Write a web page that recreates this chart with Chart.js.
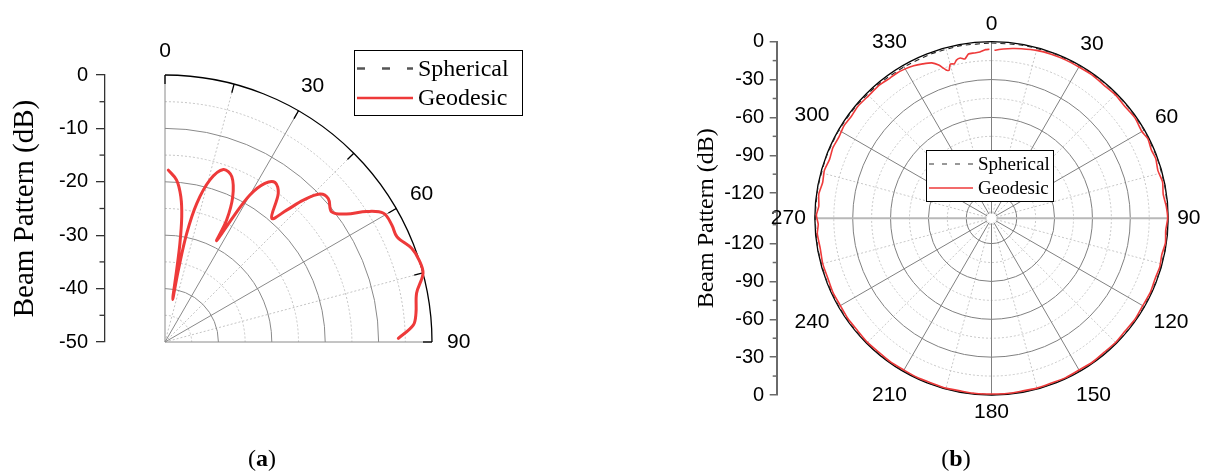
<!DOCTYPE html>
<html>
<head>
<meta charset="utf-8">
<script src="https://cdn.jsdelivr.net/npm/chart.js@4.4.1/dist/chart.umd.min.js"></script>
<style>
  body { margin: 0; background: #fff; width: 1207px; height: 473px; overflow: hidden; position: relative; }
  canvas { position: absolute; top: 0; }
  #chartA { left: 0; }
  #chartB { left: 600px; }
  .cap { position: absolute; top: 445px; width: 60px; text-align: center; font: 24px "Liberation Serif", serif; color: #000; }
</style>
</head>
<body>
<canvas id="chartA" width="600" height="473"></canvas>
<canvas id="chartB" width="607" height="473"></canvas>
<div class="cap" style="left:232px">(<b>a</b>)</div>
<div class="cap" style="left:926px">(<b>b</b>)</div>
<script>
// ---- (a) one quadrant, angle in degrees, beam pattern in dB ----
const anglesA = [1.1, 4.1, 6.2, 7.6, 8.6, 9.2, 10.2, 10.5, 11.3, 12.9, 15.5, 18.7, 22.0, 25.0, 26.8, 27.0,
  28.6, 30.0, 32.2, 34.6, 37.3, 40.8, 42.7, 44.3, 46.3, 48.7, 52.0, 54.8, 57.1, 59.5, 62.7, 65.6,
  69.2, 72.2, 75.1, 79.0, 83.5, 86.1, 89.1];
const geodesicA = [-17.8, -19.6, -22.6, -26.3, -31.3, -36.3, -41.9, -36.3, -29.3, -23.4, -18.5, -15.9, -16.6, -20.0, -24.4, -28.7,
  -23.3, -18.2, -14.9, -13.7, -15.0, -19.4, -16.4, -12.9, -9.9, -9.3, -10.4, -8.4, -5.0, -2.5, -2.2, -2.3,
  -0.6, 0.0, 0.0, -2.0, -2.7, -3.4, -6.3];
const sphericalA = geodesicA; // dashed curve lies right under the red one
const radialTicksA = [0, -10, -20, -30, -40, -50];
const angleTicksA = [0, 30, 60, 90];

// ---- (b) full circle ----
const anglesGeoB = [1, 4, 7, 10, 15, 20, 25, 30, 35, 40, 45, 50, 55, 60, 63, 67, 70, 74, 78, 82, 86, 90,
  94, 98, 102, 106, 110, 115, 120, 125, 130, 135, 140, 145, 150, 155, 160, 165, 170, 175, 180,
  185, 190, 195, 200, 205, 210, 215, 220, 225, 230, 235, 240, 245, 250, 255, 260, 265, 268, 271,
  274, 278, 282, 286, 290, 294, 298, 302, 306, 310, 315, 320, 324, 327, 330, 333, 336, 339, 341,
  343, 344, 345, 346.5, 347.5, 349, 350.5, 352, 354, 356, 358, 359.3];
const geodesicB = [-6.8, -5.5, -4.4, -3.5, -2.2, -1.6, -1.4, -1.5, -1.2, -1.8, -1.3, -2.0, -1.2, -2.4, -1.0, -2.2, -1.5, -2.8, -1.4, -2.6, -1.2, -0.4,
  -1.6, -0.8, -2.0, -1.2, -1.8, -1.1, -1.6, -1.0, -1.5, -0.9, -1.3, -0.8, -1.2, -0.7, -1.1, -0.7, -1.0, -0.6, -0.8,
  -0.6, -1.0, -0.7, -1.1, -0.8, -1.2, -0.9, -1.3, -1.0, -1.5, -1.2, -1.7, -1.3, -1.9, -1.5, -2.2, -1.4, -2.6, -1.2,
  -2.8, -1.8, -3.2, -2.2, -3.4, -2.4, -3.0, -2.0, -2.6, -1.8, -2.4, -2.0, -2.8, -2.6, -3.2, -4.2, -6.0, -8.0, -11.5,
  -17.0, -18.0, -13.5, -14.0, -11.5, -10.5, -12.0, -8.5, -8.2, -7.9, -6.2, -6.0];
const anglesSphB = [0, 10, 20, 30, 40, 50, 60, 70, 80, 90, 100, 110, 120, 130, 140, 150, 160, 170, 180,
  190, 200, 210, 220, 230, 240, 250, 260, 270, 280, 290, 300, 310, 320, 330, 340, 350, 360];
const sphericalB = [-1.0, -0.6, -0.4, -0.3, -0.3, -0.3, -0.3, -0.3, -0.3, -0.3, -0.3, -0.3, -0.3, -0.3, -0.3, -0.3, -0.3, -0.3, -0.3,
  -0.3, -0.3, -0.3, -0.3, -0.3, -0.3, -0.3, -0.3, -0.3, -0.3, -0.3, -0.3, -0.6, -1.0, -1.4, -1.2, -1.0, -1.0];
const radialTicksB = [0, -30, -60, -90, -120];
const angleTicksB = [0, 30, 60, 90, 120, 150, 180, 210, 240, 270, 300, 330];

const DEG = Math.PI / 180;
const RED = '#ee3a3a';

function toPoints(angles, values, floor) {
  return angles.map((a, i) => {
    const r = Math.max(values[i] - floor, 0);
    return { x: r * Math.sin(a * DEG), y: r * Math.cos(a * DEG) };
  });
}

// polar grid, angle labels, minor axis ticks and legend, drawn through the chart scales
function polarGrid(o) {
  return {
    id: 'polarGrid',
    beforeDatasetsDraw(chart) {
      const { ctx, scales: { x, y } } = chart;
      const cx = x.getPixelForValue(0), cy = y.getPixelForValue(0);
      const k = cy - y.getPixelForValue(1);
      const R = -o.floor * k;
      const pt = (a, r) => [cx + r * Math.sin(a * DEG), cy - r * Math.cos(a * DEG)];
      const arc = r => { ctx.beginPath(); ctx.arc(cx, cy, r, (o.from - 90) * DEG, (o.to - 90) * DEG); ctx.stroke(); };
      const spoke = (a, r0, r1) => { ctx.beginPath(); ctx.moveTo(...pt(a, r0)); ctx.lineTo(...pt(a, r1)); ctx.stroke(); };
      const step = o.ticks[0] - o.ticks[1];
      const major = o.ticks.filter(d => d < 0 && d > o.floor);
      const minor = o.ticks.filter(d => d - step / 2 > o.floor).map(d => d - step / 2);

      ctx.save();
      ctx.lineWidth = 1;
      ctx.strokeStyle = o.minorColor;
      ctx.setLineDash([2, 2]);
      minor.forEach(d => arc((d - o.floor) * k));
      for (let a = o.from + 15; a < o.to; a += 30) spoke(a, o.hole, R);
      ctx.setLineDash([]);
      ctx.strokeStyle = o.majorColor;
      major.forEach(d => arc((d - o.floor) * k));
      for (let a = o.from; a <= o.to; a += 30) {
        if (o.full && a % 90 === 0 && a % 180 !== 0) continue;
        spoke(a, o.hole, R);
      }
      if (o.full) {
        ctx.strokeStyle = '#b8b8b8';
        ctx.lineWidth = 2;
        spoke(90, o.hole, R);
        spoke(270, o.hole, R);
      }
      // outer rim
      ctx.strokeStyle = '#000';
      ctx.lineWidth = 1.3;
      arc(R);
      if (o.rimTicks) for (let a = o.from; a <= o.to; a += 15) spoke(a, R - 9, R);

      // angle labels
      ctx.fillStyle = '#000';
      ctx.font = o.angleFont + 'px "Liberation Sans", Arial, sans-serif';
      ctx.textAlign = 'center';
      ctx.textBaseline = 'middle';
      o.angles.forEach(a => {
        const t = String(a);
        const w = ctx.measureText(t).width;
        const s = Math.abs(Math.sin(a * DEG)), c = Math.abs(Math.cos(a * DEG));
        const off = o.labelGap + s * w / 2 + c * o.angleFont * 0.4 + o.diag * Math.abs(Math.sin(2 * a * DEG));
        ctx.fillText(t, ...pt(a, R + off));
      });

      // minor ticks on the left axis
      const left = chart.chartArea.left;
      ctx.strokeStyle = o.axisColor;
      ctx.lineWidth = o.axisWidth;
      const vals = o.full ? minor.flatMap(d => [d - o.floor, -(d - o.floor)]) : minor.map(d => d - o.floor);
      vals.forEach(v => {
        const py = y.getPixelForValue(v);
        ctx.beginPath(); ctx.moveTo(left - o.minorTick, py); ctx.lineTo(left, py); ctx.stroke();
      });
      ctx.restore();
    },
    afterDatasetsDraw(chart) {
      const { ctx } = chart;
      const L = o.legend;
      ctx.save();
      ctx.fillStyle = '#fff';
      ctx.fillRect(L.x, L.y, L.w, L.h);
      ctx.strokeStyle = '#000';
      ctx.lineWidth = 1;
      ctx.strokeRect(L.x + 0.5, L.y + 0.5, L.w, L.h);
      const rows = [
        { text: 'Spherical', color: L.dashColor, width: L.dashWidth, dash: L.dash },
        { text: 'Geodesic', color: RED, width: L.lineWidth, dash: [] }
      ];
      ctx.font = L.font + 'px "Liberation Serif", "Times New Roman", serif';
      ctx.textBaseline = 'middle';
      ctx.textAlign = 'left';
      rows.forEach((r, i) => {
        const yy = L.y + L.rowTop + i * L.rowGap;
        ctx.strokeStyle = r.color;
        ctx.lineWidth = r.width;
        ctx.setLineDash(r.dash);
        ctx.beginPath(); ctx.moveTo(L.x + 3, yy); ctx.lineTo(L.x + 3 + L.sample, yy); ctx.stroke();
        ctx.setLineDash([]);
        ctx.fillStyle = '#000';
        ctx.fillText(r.text, L.x + L.sample + 8, yy + 1);
      });
      ctx.restore();
    }
  };
}

// pixel frame of each plot inside its canvas
const geoA = { w: 600, h: 473, left: 105, top: 75, bottom: 342, right: 580, cx: 165 };
const geoB = { w: 607, h: 473, left: 176.7, top: 41.7, bottom: 395, right: 597, cx: 391.5 };
const floorA = -50, floorB = -140;
const kA = (geoA.bottom - geoA.top) / -floorA;
const kB = (geoB.bottom - geoB.top) / (-2 * floorB);

new Chart(document.getElementById('chartA'), {
  type: 'scatter',
  data: {
    datasets: [
      { label: 'Geodesic', data: toPoints(anglesA, geodesicA, floorA), showLine: true, borderColor: RED,
        borderWidth: 3, tension: 0.35, pointRadius: 0, clip: false, borderCapStyle: 'round' },
      { label: 'Spherical', data: toPoints(anglesA, sphericalA, floorA), showLine: true, borderColor: '#555',
        borderWidth: 1.5, borderDash: [8, 6], tension: 0.35, pointRadius: 0, clip: false }
    ]
  },
  options: {
    responsive: false,
    animation: false,
    layout: { padding: { left: 0, top: geoA.top, right: geoA.w - geoA.right, bottom: geoA.h - geoA.bottom } },
    plugins: { legend: { display: false }, tooltip: { enabled: false } },
    scales: {
      x: { type: 'linear', display: false, min: -(geoA.cx - geoA.left) / kA, max: (geoA.right - geoA.cx) / kA },
      y: {
        type: 'linear', min: 0, max: -floorA,
        afterFit: s => { s.width = geoA.left; },
        afterBuildTicks: s => { s.ticks = radialTicksA.map(d => ({ value: d - floorA })); },
        border: { color: '#333', width: 1.3 },
        grid: { drawOnChartArea: false, tickLength: 9, color: '#333', lineWidth: 1.3 },
        ticks: { padding: 8, color: '#000', font: { family: 'Liberation Sans', size: 20 }, callback: v => String(v + floorA) },
        title: { display: true, text: 'Beam Pattern (dB)', color: '#000', padding: { top: 8, bottom: 0 },
          font: { family: 'Liberation Serif', size: 29 } }
      }
    }
  },
  plugins: [polarGrid({
    floor: floorA, from: 0, to: 90, hole: 0, full: false, rimTicks: true, ticks: radialTicksA,
    majorColor: '#8a8a8a', minorColor: '#c4c4c4', angles: angleTicksA, angleFont: 21, labelGap: 15, diag: 0,
    axisColor: '#333', axisWidth: 1.3, minorTick: 5.5,
    legend: { x: 354, y: 50, w: 168, h: 65, rowTop: 18.5, rowGap: 29.5, sample: 56, font: 24,
      dashColor: '#555', dashWidth: 2.5, dash: [8, 17], lineWidth: 2.5 }
  })]
});

new Chart(document.getElementById('chartB'), {
  type: 'scatter',
  data: {
    datasets: [
      { label: 'Geodesic', data: toPoints(anglesGeoB, geodesicB, floorB), showLine: true, borderColor: RED,
        borderWidth: 1.6, tension: 0.2, pointRadius: 0, clip: false },
      { label: 'Spherical', data: toPoints(anglesSphB, sphericalB, floorB), showLine: true, borderColor: '#222',
        borderWidth: 1.1, borderDash: [5, 4], tension: 0.2, pointRadius: 0, clip: false }
    ]
  },
  options: {
    responsive: false,
    animation: false,
    layout: { padding: { left: 0, top: geoB.top, right: geoB.w - geoB.right, bottom: geoB.h - geoB.bottom } },
    plugins: { legend: { display: false }, tooltip: { enabled: false } },
    scales: {
      x: { type: 'linear', display: false, min: -(geoB.cx - geoB.left) / kB, max: (geoB.right - geoB.cx) / kB },
      y: {
        type: 'linear', min: floorB, max: -floorB,
        afterFit: s => { s.width = geoB.left; },
        afterBuildTicks: s => { s.ticks = radialTicksB.flatMap(d => [{ value: d - floorB }, { value: floorB - d }]); },
        border: { color: '#6a6a6a', width: 2 },
        grid: { drawOnChartArea: false, tickLength: 7, color: '#6a6a6a', lineWidth: 1.5 },
        ticks: { padding: 5.5, color: '#000', font: { family: 'Liberation Sans', size: 20 }, callback: v => String(Math.abs(v) + floorB) },
        title: { display: true, text: 'Beam Pattern (dB)', color: '#000', padding: { top: 92, bottom: 0 },
          font: { family: 'Liberation Serif', size: 24 } }
      }
    }
  },
  plugins: [polarGrid({
    floor: floorB, from: 0, to: 360, hole: 5, full: true, rimTicks: false, ticks: radialTicksB.concat([-150]),
    majorColor: '#808080', minorColor: '#c8c8c8', angles: angleTicksB, angleFont: 21, labelGap: 9, diag: 2.6,
    axisColor: '#6a6a6a', axisWidth: 1.5, minorTick: 4,
    legend: { x: 326, y: 150, w: 127, h: 51, rowTop: 14, rowGap: 24, sample: 44, font: 19,
      dashColor: '#333', dashWidth: 1.2, dash: [5, 8], lineWidth: 1.6 }
  })]
});
</script>
</body>
</html>
